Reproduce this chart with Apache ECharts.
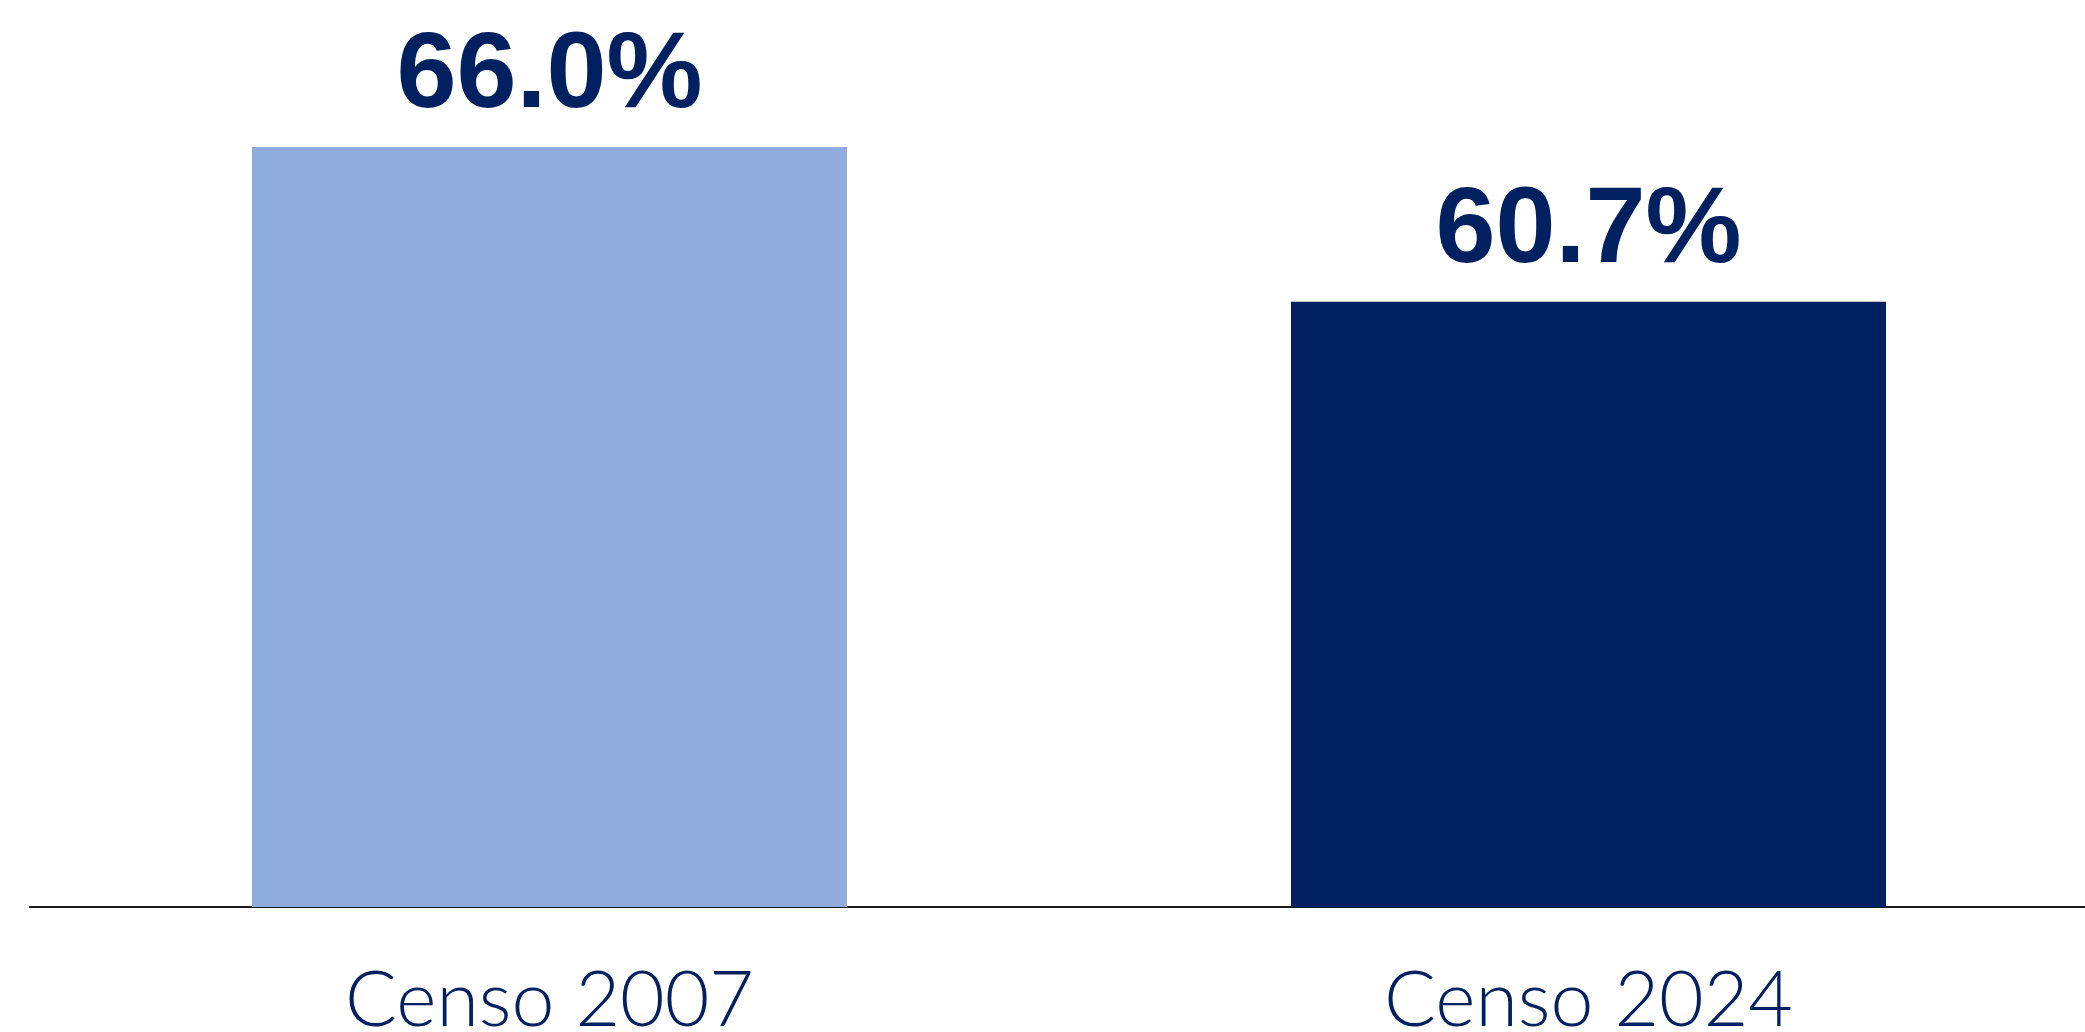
<!DOCTYPE html>
<html>
<head>
<meta charset="utf-8">
<script src="https://cdn.jsdelivr.net/npm/echarts@6/dist/echarts.min.js"></script>
<style>
html,body{margin:0;padding:0;background:#fff;}
#chart{width:2085px;height:1032px;}
</style>
</head>
<body>
<div id="chart"></div>
<script>
var categories = ['Censo 2007', 'Censo 2024'];
var values = [66.0, 60.7];
var barColors = ['#8FACDC', '#002060'];

var chart = echarts.init(document.getElementById('chart'), null, {renderer: 'canvas'});
chart.setOption({
  animation: false,
  backgroundColor: '#ffffff',
  grid: {left: 30, right: -23, top: 30, bottom: 125, containLabel: false, outerBoundsMode: 'none'},
  xAxis: {
    type: 'category',
    data: categories,
    axisLine: {show: true, lineStyle: {color: '#1a1a1a', width: 2}},
    axisTick: {show: false},
    axisLabel: {
      margin: 56,
      color: '#002060',
      fontFamily: 'Lato',
      fontWeight: 300,
      fontSize: 77
    }
  },
  yAxis: {
    type: 'value',
    min: 40,
    max: 70,
    show: false,
    splitLine: {show: false}
  },
  series: [{
    type: 'bar',
    barWidth: 595,
    data: values.map(function (v, i) {
      return {value: v, itemStyle: {color: barColors[i]}};
    }),
    label: {
      show: true,
      position: 'top',
      distance: 16,
      color: '#002060',
      fontFamily: 'Liberation Sans',
      fontWeight: 'bold',
      fontSize: 108,
      formatter: function (p) { return p.value.toFixed(1) + '%'; }
    }
  }]
});
</script>
</body>
</html>
